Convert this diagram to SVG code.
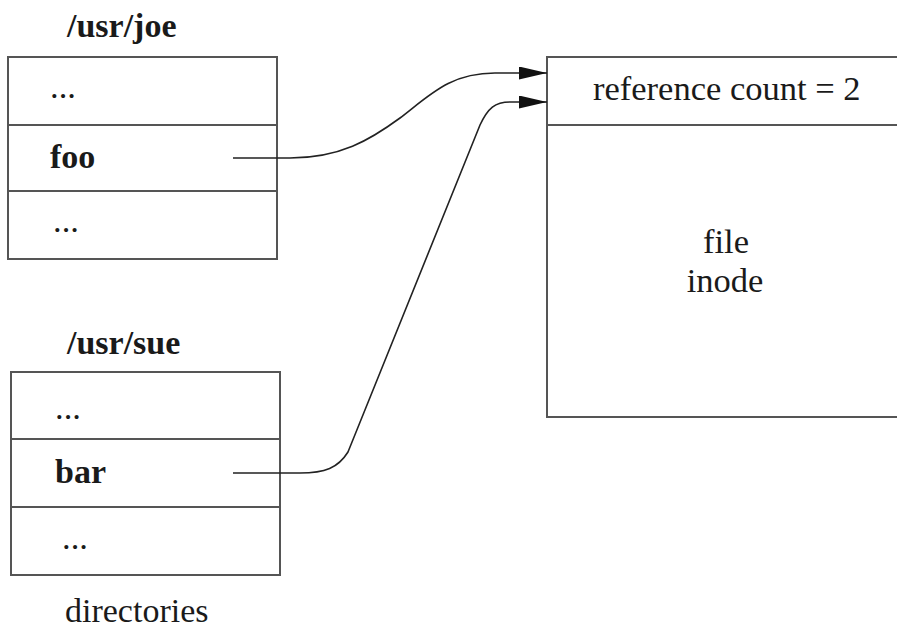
<svg xmlns="http://www.w3.org/2000/svg" width="897" height="630" viewBox="0 0 897 630">
<style>
.box{fill:none;stroke:#555;stroke-width:2}
.div{stroke:#555;stroke-width:2}
.t{font-family:"Liberation Serif","Times New Roman",serif;font-size:34.5px;fill:#1a1a1a}
.b{font-weight:bold;font-size:34px}
.c{text-anchor:middle}
.conn{fill:none;stroke:#222;stroke-width:1.6}
</style>
<defs>
<marker id="ah" markerUnits="userSpaceOnUse" markerWidth="30" markerHeight="14" refX="28" refY="6.5" orient="auto">
<path d="M0,0 L28,6.5 L0,13 z" fill="#111"/>
</marker>
</defs>
<rect width="897" height="630" fill="#fff"/>
<g id="joe">
<text class="t b" x="67" y="37">/usr/joe</text>
<rect class="box" x="8" y="57" width="269" height="202"/>
<line class="div" x1="8" y1="125" x2="277" y2="125"/>
<line class="div" x1="8" y1="191" x2="277" y2="191"/>
<text class="t" x="50" y="98">...</text>
<text class="t b" x="50" y="168">foo</text>
<text class="t" x="53" y="232">...</text>
</g>
<g id="sue">
<text class="t b" x="67" y="354">/usr/sue</text>
<rect class="box" x="11" y="372" width="269" height="203"/>
<line class="div" x1="11" y1="439" x2="280" y2="439"/>
<line class="div" x1="11" y1="507" x2="280" y2="507"/>
<text class="t" x="55" y="419">...</text>
<text class="t b" x="55" y="483">bar</text>
<text class="t" x="62" y="549">...</text>
</g>
<g id="label">
<text class="t" x="65" y="622" style="font-size:34px">directories</text>
</g>
<g id="inode">
<rect class="box" x="547" y="57" width="360" height="360"/>
<line class="div" x1="547" y1="125" x2="897" y2="125"/>
<text class="t" x="593" y="100">reference count = 2</text>
<text class="t c" x="726" y="253">file</text>
<text class="t c" x="725" y="292">inode</text>
</g>
<g id="connectors">
<path class="conn" marker-end="url(#ah)" d="M233,158 L290,158 C340,158 370,140 400,118 C430,95 450,73 495,73 L547,73"/>
<path class="conn" marker-end="url(#ah)" d="M233,473 L300,473 C325,473 338,468 348,452 L480,125 C488,108 495,102 510,102 L547,102"/>
</g>
</svg>
